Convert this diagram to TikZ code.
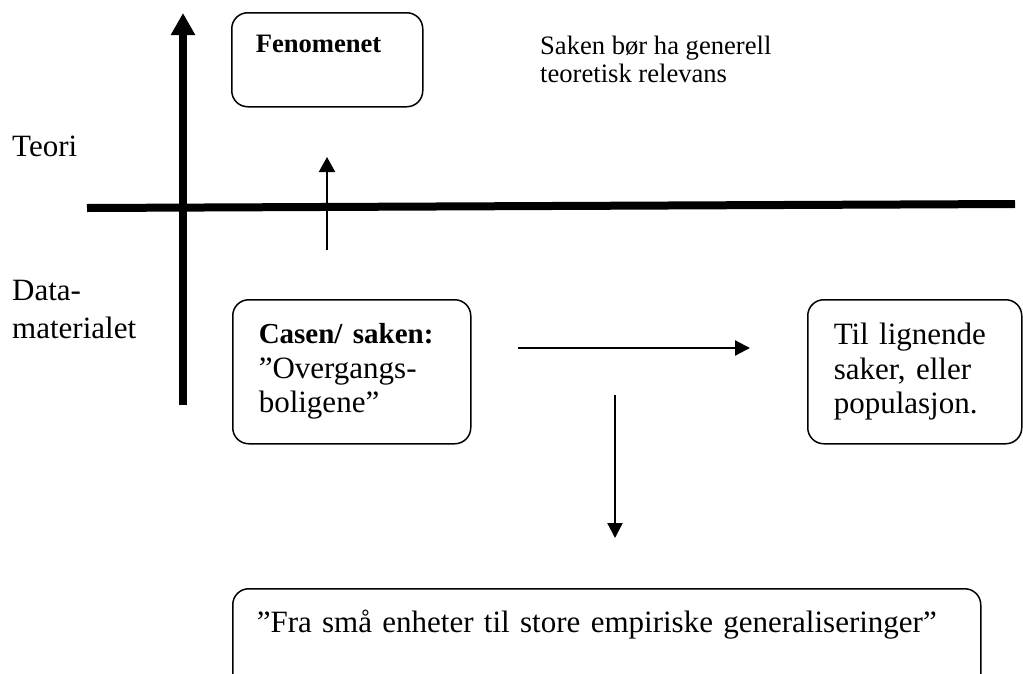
\documentclass[tikz,border=0pt]{standalone}
\usepackage{fontspec}
\setmainfont{Liberation Serif}
\usetikzlibrary{arrows.meta,positioning}

\begin{document}
\begin{tikzpicture}[x=1pt,y=-1pt,
 casebox/.style={draw,line width=1.5pt,rounded corners=16pt,align=left,anchor=north west,
   inner xsep=26pt,inner ysep=0pt,font=\fontsize{31}{34.5}\selectfont},
 sidetext/.style={anchor=base west,align=left,inner sep=0pt,font=\fontsize{31}{38}\selectfont},
 axis/.style={line width=8pt},
 flow/.style={line width=2.2pt,-{Triangle[length=15pt,width=15pt]}}]
\useasboundingbox (0,0) rectangle (1023,673);
\clip (0,0) rectangle (1023,673);
% boxes
\node[casebox,inner xsep=24pt,text width=143pt,text height=40pt,text depth=54pt,
      font=\fontsize{26.6}{30}\selectfont\bfseries] (fen) at (231,12) {Fenomenet};
\node[casebox,text width=186pt,minimum height=144pt] (casen) at (232,299)
  {{\fontsize{29}{34.5}\selectfont\bfseries Casen/ saken:}\\”Overgangs-\\boligene”};
\node[casebox,text width=162pt,minimum height=144pt] (til) at (807,299)
  {Til lignende\\saker, eller\\populasjon.};
\node[casebox,inner xsep=24pt,text width=700pt,text height=44pt,text depth=66pt] (gen) at (232,588)
  {”Fra små enheter til store empiriske generaliseringer”};
% texts
\node[sidetext] (teori) at (12,156) {Teori};
\node[sidetext] (data) at (12,338) {Data-\\materialet};
\node[sidetext,font=\fontsize{26.6}{28}\selectfont] (relevans) at (540,82)
  {Saken bør ha generell\\teoretisk relevans};
% axes
\coordinate (vbot) at (183,405);
\coordinate (vtop) at (183,13);
\coordinate (hleft) at (87,208);
\coordinate (hright) at (1015,204);
\draw[axis,-{Triangle[length=22pt,width=23pt]}] (vbot) -- (vtop);
\draw[axis] (hleft) -- (hright);
% arrows
\coordinate (upstart) at (327,250);
\coordinate (upend) at (327,157);
\coordinate (rstart) at (518,348);
\coordinate (rend) at (750,348);
\coordinate (dstart) at (615,395);
\coordinate (dend) at (615,538);
\draw[flow,-{Triangle[length=15pt,width=16pt]}] (upstart) -- (upend);
\draw[flow] (rstart) -- (rend);
\draw[flow] (dstart) -- (dend);
\end{tikzpicture}
\end{document}
